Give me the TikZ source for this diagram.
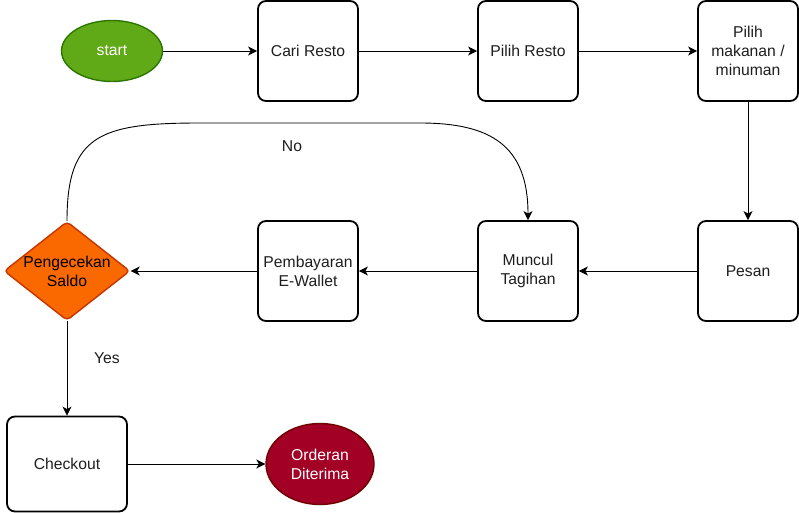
\documentclass[tikz,border=0pt]{standalone}
\usepackage{fontspec}
\setmainfont{Liberation Sans}
\usetikzlibrary{arrows.meta,shapes.geometric}
\definecolor{txt}{HTML}{1E1E1E}
\definecolor{gfill}{HTML}{60A917}
\definecolor{gline}{HTML}{2D7600}
\definecolor{ofill}{HTML}{FA6800}
\definecolor{oline}{HTML}{C73500}
\definecolor{rfill}{HTML}{A20025}
\definecolor{rline}{HTML}{6F0000}
\begin{document}
\begin{tikzpicture}[x=1pt,y=-1pt,
  fnt/.style={font=\fontsize{15.7}{19}\selectfont},
  box/.style={fnt,draw=black,line width=1.8pt,rounded corners=8pt,minimum width=100pt,minimum height=100pt,inner sep=0pt,align=center,text=txt},
  oval/.style={fnt,ellipse,line width=1.4pt,inner sep=0pt,align=center,text=white},
  conn/.style={line width=0.9pt,-{Stealth[length=9pt,width=9pt,inset=2.5pt]}},
  lbl/.style={fnt,text=txt,inner sep=0pt}]
\useasboundingbox (0,0) rectangle (799,513);
\fill[white] (0,0) rectangle (799,513);

\node[oval,draw=gline,fill=gfill,minimum width=101pt,minimum height=61pt] (start) at (112,51) {start};
\node[box] (cari) at (308,51) {Cari Resto};
\node[box] (pilih) at (528,51) {Pilih Resto};
\node[box] (makan) at (748,51) {Pilih\\makanan /\\minuman};
\node[box] (pesan) at (748,271) {Pesan};
\node[box] (muncul) at (528,271) {Muncul\\Tagihan};
\node[box] (bayar) at (308,271) {Pembayaran\\E-Wallet};
\node[diamond,draw=oline,fill=ofill,line width=1.4pt,rounded corners=4pt,minimum width=126pt,minimum height=99pt,inner sep=0pt] (cek) at (67,271) {};
\node[fnt,align=center,text=black,inner sep=0pt] (cektxt) at (cek.center) {Pengecekan\\Saldo};
\node[box,minimum width=120pt,minimum height=95pt] (chk) at (67,464) {Checkout};
\node[oval,draw=rline,fill=rfill,minimum width=108pt,minimum height=81pt] (order) at (320,464) {Orderan\\Diterima};

\draw[conn] (start) -- (cari);
\draw[conn] (cari) -- (pilih);
\draw[conn] (pilih) -- (makan);
\draw[conn] (makan) -- (pesan);
\draw[conn] (pesan) -- (muncul);
\draw[conn] (muncul) -- (bayar);
\draw[conn] (bayar) -- (cek);
\draw[conn] (cek.south) -- (chk.north);
\draw[conn] (chk) -- (order);
\draw[conn] (cek.north) .. controls (67,135) and (100,123) .. (200,123) -- (420,123) .. controls (490,123) and (528,145) .. (muncul.north);

\node[lbl] (no) at (292,146) {No};
\node[lbl] (yes) at (107,358) {Yes};
\end{tikzpicture}
\end{document}
